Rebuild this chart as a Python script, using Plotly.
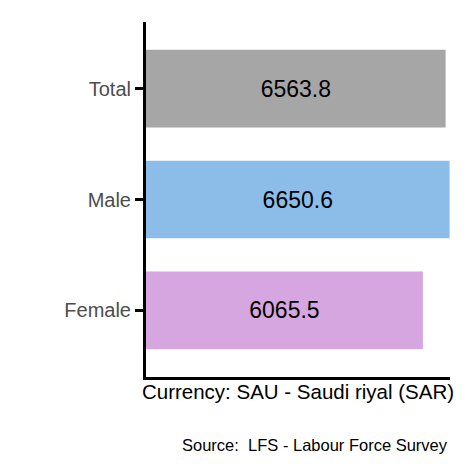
import plotly.graph_objects as go

categories = ["Female", "Male", "Total"]
values = [6065.5, 6650.6, 6563.8]
colors = ["#d5a6e0", "#8bbde8", "#a6a6a6"]
labels = ["6065.5", "6650.6", "6563.8"]

fig = go.Figure(go.Bar(
    y=categories, x=values, orientation="h", width=0.7,
    marker=dict(color=colors, line=dict(width=0)),
    text=labels, textposition="inside", insidetextanchor="middle",
    textfont=dict(family="Liberation Sans, Arial", size=23, color="black"),
))
fig.update_layout(
    width=472, height=472, margin=dict(l=138, r=30, t=14, b=103),
    plot_bgcolor="white", paper_bgcolor="white", showlegend=False,
    font=dict(family="Liberation Sans, Arial"),
    xaxis=dict(range=[0, 6660], showgrid=False, zeroline=False, showticklabels=False,
               showline=True, linecolor="black", linewidth=3, ticks="",
               title=dict(text="Currency: SAU - Saudi riyal (SAR)", font=dict(size=20.5, color="black"), standoff=6)),
    yaxis=dict(showgrid=False, zeroline=False, showline=True, linecolor="black", linewidth=3,
               ticks="outside", ticklen=8, tickwidth=3, tickcolor="black",
               tickfont=dict(size=20, color="#4d4d4d"), range=[-0.6, 2.6]),
    uniformtext=dict(mode="show", minsize=10),
)
fig.add_annotation(text="Source:  LFS - Labour Force Survey", xref="paper", yref="paper",
                   x=1.0, y=-0.16, xanchor="right", yanchor="top", showarrow=False,
                   font=dict(size=16.5, color="black"))
fig.write_html("out.html")
